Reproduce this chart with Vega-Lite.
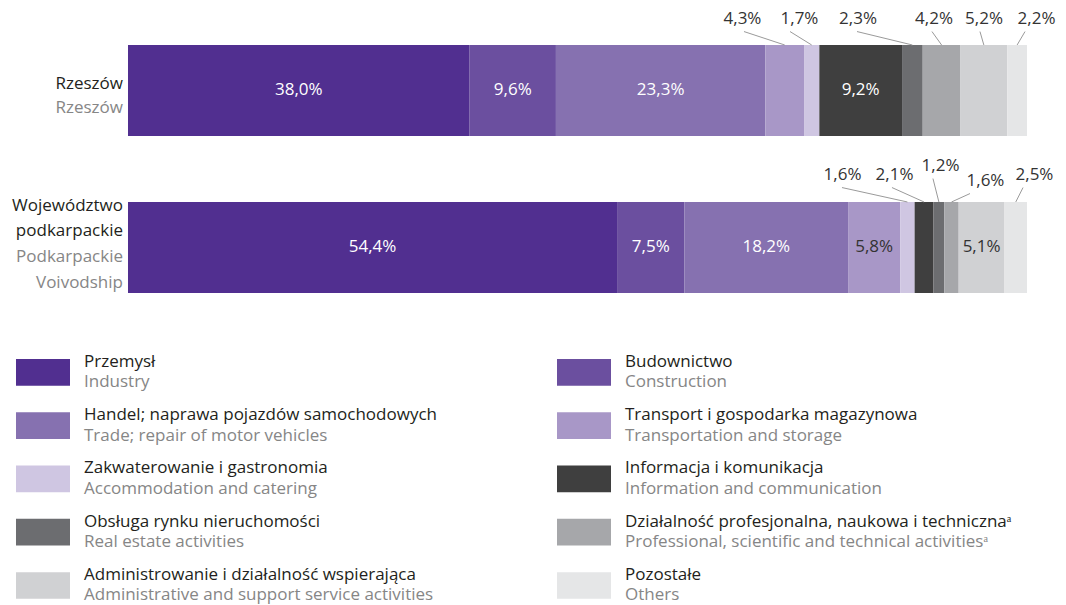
{
  "$schema": "https://vega.github.io/schema/vega-lite/v6.json",
  "width": 1066,
  "height": 605,
  "autosize": {"type": "fit", "contains": "padding"},
  "padding": 0,
  "background": "white",
  "config": {"view": {"stroke": null}, "text": {"font": "Open Sans", "fontSize": 17}},
  "datasets": {
    "shares": [
      {"region": "Rzeszów", "cat": "Przemysł", "value": 38.0},
      {"region": "Rzeszów", "cat": "Budownictwo", "value": 9.6},
      {"region": "Rzeszów", "cat": "Handel; naprawa pojazdów samochodowych", "value": 23.3},
      {"region": "Rzeszów", "cat": "Transport i gospodarka magazynowa", "value": 4.3, "lx": 68.35, "ly": -0.4554, "lineX": 68.52},
      {"region": "Rzeszów", "cat": "Zakwaterowanie i gastronomia", "value": 1.7, "lx": 74.69, "ly": -0.4554, "lineX": 73.64},
      {"region": "Rzeszów", "cat": "Informacja i komunikacja", "value": 9.2},
      {"region": "Rzeszów", "cat": "Obsługa rynku nieruchomości", "value": 2.3, "lx": 81.2, "ly": -0.4554, "lineX": 81.09},
      {"region": "Rzeszów", "cat": "Działalność profesjonalna, naukowa i techniczna", "value": 4.2, "lx": 89.66, "ly": -0.4554, "lineX": 89.43},
      {"region": "Rzeszów", "cat": "Administrowanie i działalność wspierająca", "value": 5.2, "lx": 95.22, "ly": -0.4554, "lineX": 94.77},
      {"region": "Rzeszów", "cat": "Pozostałe", "value": 2.2, "lx": 101.06, "ly": -0.4554, "lineX": 99.78},
      {"region": "Podkarpackie", "cat": "Przemysł", "value": 54.4},
      {"region": "Podkarpackie", "cat": "Budownictwo", "value": 7.5},
      {"region": "Podkarpackie", "cat": "Handel; naprawa pojazdów samochodowych", "value": 18.2},
      {"region": "Podkarpackie", "cat": "Transport i gospodarka magazynowa", "value": 5.8},
      {"region": "Podkarpackie", "cat": "Zakwaterowanie i gastronomia", "value": 1.6, "lx": 79.48, "ly": 0.5382, "lineX": 79.42},
      {"region": "Podkarpackie", "cat": "Informacja i komunikacja", "value": 2.1, "lx": 85.26, "ly": 0.5382, "lineX": 84.98},
      {"region": "Podkarpackie", "cat": "Obsługa rynku nieruchomości", "value": 1.2, "lx": 90.38, "ly": 0.4809, "lineX": 89.54},
      {"region": "Podkarpackie", "cat": "Działalność profesjonalna, naukowa i techniczna", "value": 1.6, "lx": 95.38, "ly": 0.5764, "lineX": 93.66},
      {"region": "Podkarpackie", "cat": "Administrowanie i działalność wspierająca", "value": 5.1},
      {"region": "Podkarpackie", "cat": "Pozostałe", "value": 2.5, "lx": 100.83, "ly": 0.5382, "lineX": 99.56}
    ],
    "regions": [
      {"region": "Rzeszów", "pl": "Rzeszów", "en": "Rzeszów"},
      {"region": "Podkarpackie", "pl": "Województwo\npodkarpackie", "en": "Podkarpackie\nVoivodship"}
    ],
    "legend": [
      {"cat": "Przemysł", "pl": "Przemysł", "en": "Industry"},
      {"cat": "Budownictwo", "pl": "Budownictwo", "en": "Construction"},
      {"cat": "Handel; naprawa pojazdów samochodowych", "pl": "Handel; naprawa pojazdów samochodowych", "en": "Trade; repair of motor vehicles"},
      {"cat": "Transport i gospodarka magazynowa", "pl": "Transport i gospodarka magazynowa", "en": "Transportation and storage"},
      {"cat": "Zakwaterowanie i gastronomia", "pl": "Zakwaterowanie i gastronomia", "en": "Accommodation and catering"},
      {"cat": "Informacja i komunikacja", "pl": "Informacja i komunikacja", "en": "Information and communication"},
      {"cat": "Obsługa rynku nieruchomości", "pl": "Obsługa rynku nieruchomości", "en": "Real estate activities"},
      {"cat": "Działalność profesjonalna, naukowa i techniczna", "pl": "Działalność profesjonalna, naukowa i technicznaᵃ", "en": "Professional, scientific and technical activitiesᵃ"},
      {"cat": "Administrowanie i działalność wspierająca", "pl": "Administrowanie i działalność wspierająca", "en": "Administrative and support service activities"},
      {"cat": "Pozostałe", "pl": "Pozostałe", "en": "Others"}
    ]
  },
  "layer": [
    {
      "layer": [
        {
          "data": {"name": "shares"},
          "transform": [
            {"stack": "value", "groupby": ["region"], "as": ["s0", "s1"]},
            {"calculate": "datum.region === 'Rzeszów' ? 0 : 1", "as": "row"},
            {"calculate": "datum.row - 0.2898", "as": "yTop"},
            {"calculate": "datum.row + 0.2898", "as": "yBot"}
          ],
          "mark": {"type": "rect", "strokeWidth": 0},
          "encoding": {
            "x": {"field": "s0", "type": "quantitative", "scale": {"domain": [-14.238, 104.338], "nice": false, "zero": false}, "axis": null},
            "x2": {"field": "s1"},
            "y": {"field": "yTop", "type": "quantitative", "scale": {"domain": [-0.5764, 3.2771], "nice": false, "zero": false, "reverse": true}, "axis": null},
            "y2": {"field": "yBot"},
            "color": {
              "field": "cat", "type": "nominal", "legend": null,
              "scale": {
                "domain": ["Przemysł", "Budownictwo", "Handel; naprawa pojazdów samochodowych", "Transport i gospodarka magazynowa", "Zakwaterowanie i gastronomia", "Informacja i komunikacja", "Obsługa rynku nieruchomości", "Działalność profesjonalna, naukowa i techniczna", "Administrowanie i działalność wspierająca", "Pozostałe"],
                "range": ["#512f90", "#6b4f9f", "#8671b0", "#a897c7", "#cfc6e2", "#3f3f3f", "#6c6d70", "#a6a7aa", "#d0d1d3", "#e5e6e7"]
              }
            }
          }
        },
        {
          "data": {"name": "shares"},
          "transform": [
            {"stack": "value", "groupby": ["region"], "as": ["s0", "s1"]},
            {"calculate": "datum.region === 'Rzeszów' ? 0 : 1", "as": "row"},
            {"calculate": "(datum.s0 + datum.s1) / 2", "as": "mid"},
            {"filter": "isValid(datum.lx)"},
            {"calculate": "datum.ly + 0.08", "as": "lineY"},
            {"calculate": "datum.row - 0.2898", "as": "barTop"}
          ],
          "mark": {"type": "rule", "stroke": "#9a9a9a", "strokeWidth": 1},
          "encoding": {
            "x": {"field": "lineX", "type": "quantitative", "scale": {"domain": [-14.238, 104.338], "nice": false, "zero": false}, "axis": null},
            "x2": {"field": "mid"},
            "y": {"field": "lineY", "type": "quantitative", "scale": {"domain": [-0.5764, 3.2771], "nice": false, "zero": false, "reverse": true}, "axis": null},
            "y2": {"field": "barTop"}
          }
        },
        {
          "data": {"name": "shares"},
          "transform": [
            {"stack": "value", "groupby": ["region"], "as": ["s0", "s1"]},
            {"calculate": "datum.region === 'Rzeszów' ? 0 : 1", "as": "row"},
            {"calculate": "(datum.s0 + datum.s1) / 2", "as": "mid"},
            {"calculate": "replace(format(datum.value, '.1f'), '.', ',') + '%'", "as": "lbl"},
            {"filter": "!isValid(datum.lx)"}
          ],
          "mark": {"type": "text", "baseline": "middle", "align": "center"},
          "encoding": {
            "x": {"field": "mid", "type": "quantitative", "scale": {"domain": [-14.238, 104.338], "nice": false, "zero": false}, "axis": null},
            "y": {"field": "row", "type": "quantitative", "scale": {"domain": [-0.5764, 3.2771], "nice": false, "zero": false, "reverse": true}, "axis": null},
            "text": {"field": "lbl"},
            "color": {"condition": {"test": "datum.cat === 'Transport i gospodarka magazynowa' || datum.cat === 'Administrowanie i działalność wspierająca'", "value": "#333333"}, "value": "#ffffff"}
          }
        },
        {
          "data": {"name": "shares"},
          "transform": [
            {"calculate": "replace(format(datum.value, '.1f'), '.', ',') + '%'", "as": "lbl"},
            {"filter": "isValid(datum.lx)"}
          ],
          "mark": {"type": "text", "baseline": "middle", "align": "center", "fill": "#333333"},
          "encoding": {
            "x": {"field": "lx", "type": "quantitative", "scale": {"domain": [-14.238, 104.338], "nice": false, "zero": false}, "axis": null},
            "y": {"field": "ly", "type": "quantitative", "scale": {"domain": [-0.5764, 3.2771], "nice": false, "zero": false, "reverse": true}, "axis": null},
            "text": {"field": "lbl"}
          }
        },
        {
          "data": {"name": "regions"},
          "transform": [{"filter": "datum.region === 'Rzeszów'"}, {"calculate": "0", "as": "row"}, {"calculate": "0", "as": "x0"}],
          "mark": {"type": "text", "align": "right", "baseline": "alphabetic", "dx": -5, "dy": -1.5, "fill": "#231f20", "lineBreak": "\n", "lineHeight": 24},
          "encoding": {
            "x": {"field": "x0", "type": "quantitative", "scale": {"domain": [-14.238, 104.338], "nice": false, "zero": false}, "axis": null},
            "y": {"field": "row", "type": "quantitative", "scale": {"domain": [-0.5764, 3.2771], "nice": false, "zero": false, "reverse": true}, "axis": null},
            "text": {"field": "pl"}
          }
        },
        {
          "data": {"name": "regions"},
          "transform": [{"filter": "datum.region === 'Rzeszów'"}, {"calculate": "0", "as": "row"}, {"calculate": "0", "as": "x0"}],
          "mark": {"type": "text", "align": "right", "baseline": "alphabetic", "dx": -5, "dy": 22.5, "fill": "#868686", "lineBreak": "\n", "lineHeight": 24},
          "encoding": {
            "x": {"field": "x0", "type": "quantitative", "scale": {"domain": [-14.238, 104.338], "nice": false, "zero": false}, "axis": null},
            "y": {"field": "row", "type": "quantitative", "scale": {"domain": [-0.5764, 3.2771], "nice": false, "zero": false, "reverse": true}, "axis": null},
            "text": {"field": "en"}
          }
        },
        {
          "data": {"name": "regions"},
          "transform": [{"filter": "datum.region === 'Podkarpackie'"}, {"calculate": "1", "as": "row"}, {"calculate": "0", "as": "x0"}],
          "mark": {"type": "text", "align": "right", "baseline": "alphabetic", "dx": -5, "dy": -36.5, "fill": "#231f20", "lineBreak": "\n", "lineHeight": 25.5},
          "encoding": {
            "x": {"field": "x0", "type": "quantitative", "scale": {"domain": [-14.238, 104.338], "nice": false, "zero": false}, "axis": null},
            "y": {"field": "row", "type": "quantitative", "scale": {"domain": [-0.5764, 3.2771], "nice": false, "zero": false, "reverse": true}, "axis": null},
            "text": {"field": "pl"}
          }
        },
        {
          "data": {"name": "regions"},
          "transform": [{"filter": "datum.region === 'Podkarpackie'"}, {"calculate": "1", "as": "row"}, {"calculate": "0", "as": "x0"}],
          "mark": {"type": "text", "align": "right", "baseline": "alphabetic", "dx": -5, "dy": 14.5, "fill": "#868686", "lineBreak": "\n", "lineHeight": 26},
          "encoding": {
            "x": {"field": "x0", "type": "quantitative", "scale": {"domain": [-14.238, 104.338], "nice": false, "zero": false}, "axis": null},
            "y": {"field": "row", "type": "quantitative", "scale": {"domain": [-0.5764, 3.2771], "nice": false, "zero": false, "reverse": true}, "axis": null},
            "text": {"field": "en"}
          }
        }
      ]
    },
    {
      "data": {"name": "legend"},
      "transform": [
        {"window": [{"op": "row_number", "as": "rn"}]},
        {"calculate": "(datum.rn - 1) % 2", "as": "col"},
        {"calculate": "floor((datum.rn - 1) / 2)", "as": "lrow"}
      ],
      "layer": [
        {
          "mark": {"type": "point", "filled": true, "opacity": 1, "strokeWidth": 0, "size": 2916, "shape": "M-1,-0.494L1,-0.494L1,0.494L-1,0.494Z"},
          "encoding": {
            "x": {"field": "col", "type": "quantitative", "scale": {"domain": [-0.07948, 1.89094], "nice": false, "zero": false}, "axis": null},
            "y": {"field": "lrow", "type": "quantitative", "scale": {"domain": [-6.985, 4.366], "nice": false, "zero": false, "reverse": true}, "axis": null},
            "color": {"field": "cat", "type": "nominal", "legend": null}
          }
        },
        {
          "mark": {"type": "text", "align": "left", "baseline": "alphabetic", "dx": 41, "dy": -5.5, "fill": "#231f20"},
          "encoding": {
            "x": {"field": "col", "type": "quantitative", "scale": {"domain": [-0.07948, 1.89094], "nice": false, "zero": false}, "axis": null},
            "y": {"field": "lrow", "type": "quantitative", "scale": {"domain": [-6.985, 4.366], "nice": false, "zero": false, "reverse": true}, "axis": null},
            "text": {"field": "pl"}
          }
        },
        {
          "mark": {"type": "text", "align": "left", "baseline": "alphabetic", "dx": 41, "dy": 15, "fill": "#868686"},
          "encoding": {
            "x": {"field": "col", "type": "quantitative", "scale": {"domain": [-0.07948, 1.89094], "nice": false, "zero": false}, "axis": null},
            "y": {"field": "lrow", "type": "quantitative", "scale": {"domain": [-6.985, 4.366], "nice": false, "zero": false, "reverse": true}, "axis": null},
            "text": {"field": "en"}
          }
        }
      ]
    }
  ],
  "resolve": {"scale": {"x": "independent", "y": "independent"}}
}
